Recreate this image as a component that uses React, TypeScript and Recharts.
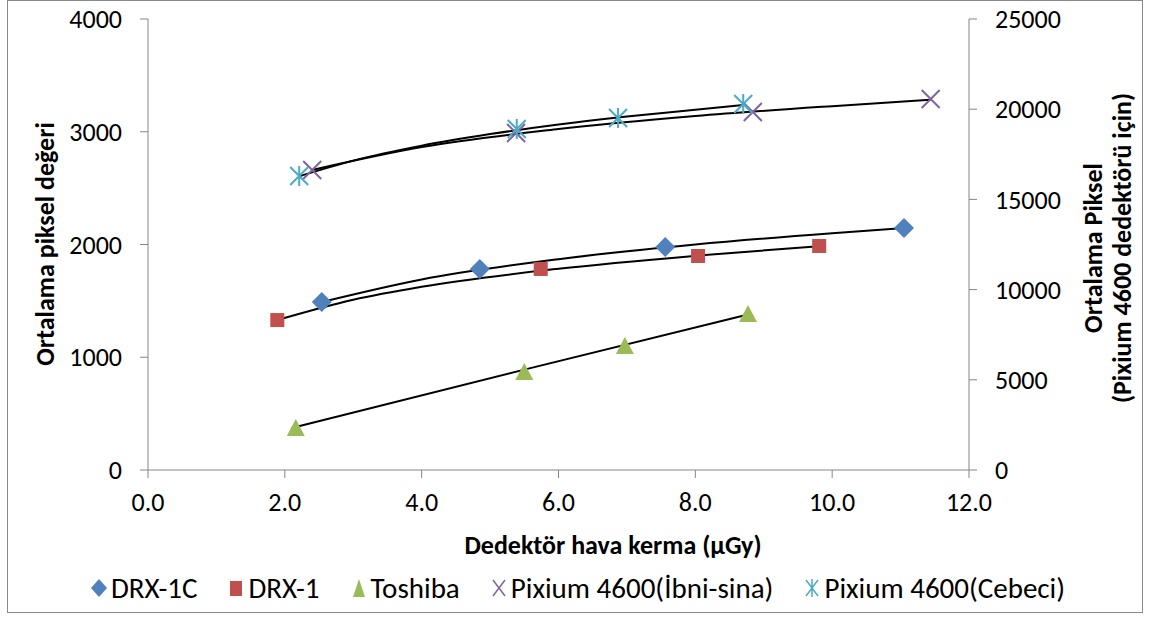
import React from "react";
import { ComposedChart, Scatter, Line, XAxis, YAxis } from "recharts";

// marker values (x = µGy, y = mean pixel)
const drx1cX = [2.54, 4.85, 7.56, 11.05];
const drx1cY = [1490, 1783, 1978, 2146];
const drx1X = [1.89, 5.74, 8.04, 9.81];
const drx1Y = [1330, 1783, 1898, 1987];
const toshibaX = [2.16, 5.5, 6.97, 8.77];
const toshibaY = [372, 869, 1100, 1384];
const ibniX = [2.4, 5.38, 8.84, 11.44];
const ibniY = [16630, 18680, 19845, 20565];
const cebeciX = [2.21, 5.39, 6.87, 8.7];
const cebeciY = [16300, 18900, 19510, 20290];

// trendline samples
const drx1cTrendX = [2.54, 4, 6, 8, 10, 11.05];
const drx1cTrendY = [1490, 1690, 1870, 2000, 2100, 2146];
const drx1TrendX = [1.89, 3, 4, 6, 8, 9.81];
const drx1TrendY = [1330, 1510, 1625, 1785, 1900, 1985];
const toshibaTrendX = [2.1, 5.5, 8.77];
const toshibaTrendY = [372, 890, 1380];
const ibniTrendX = [2.4, 4, 6, 8, 10, 11.44];
const ibniTrendY = [16630, 17900, 18900, 19620, 20170, 20520];
const cebeciTrendX = [2.21, 3, 4, 5, 6, 7, 8, 8.7];
const cebeciTrendY = [16280, 17150, 17980, 18620, 19150, 19590, 19970, 20230];

const xTicks = [0, 2, 4, 6, 8, 10, 12];
const leftTicks = [0, 1000, 2000, 3000, 4000];
const rightTicks = [0, 5000, 10000, 15000, 20000, 25000];

const seriesNames = ["DRX-1C", "DRX-1", "Toshiba", "Pixium 4600(İbni-sina)", "Pixium 4600(Cebeci)"];

const BLUE = "#4F81BD";
const RED = "#C0504D";
const GREEN = "#9BBB59";
const PURPLE = "#8064A2";
const CYAN = "#4BACC6";
const AXIS = "#868686";
const FONT = "Carlito, Calibri, Lato, sans-serif";

const zip = (xs: number[], ys: number[]) => xs.map((x, i) => ({ x, y: ys[i] }));

const Diamond = (p: any) => {
  const { cx, cy } = p;
  const r = 10;
  return <path d={`M${cx},${cy - r}L${cx + r},${cy}L${cx},${cy + r}L${cx - r},${cy}Z`} fill={BLUE} />;
};
const Square = (p: any) => {
  const { cx, cy } = p;
  return <rect x={cx - 7} y={cy - 7} width={14} height={14} fill={RED} />;
};
const Triangle = (p: any) => {
  const { cx, cy } = p;
  return <path d={`M${cx},${cy - 9}L${cx + 9},${cy + 8}L${cx - 9},${cy + 8}Z`} fill={GREEN} />;
};
const Cross = (p: any) => {
  const { cx, cy } = p;
  const r = 9;
  return (
    <path d={`M${cx - r},${cy - r}L${cx + r},${cy + r}M${cx - r},${cy + r}L${cx + r},${cy - r}`} stroke={PURPLE} strokeWidth={2} fill="none" />
  );
};
const Star = (p: any) => {
  const { cx, cy } = p;
  const r = 9;
  return (
    <path
      d={`M${cx - r},${cy - r}L${cx + r},${cy + r}M${cx - r},${cy + r}L${cx + r},${cy - r}M${cx},${cy - r - 1}L${cx},${cy + r + 1}`}
      stroke={CYAN}
      strokeWidth={2}
      fill="none"
    />
  );
};

const legendIcon = (i: number) => {
  const s = 20;
  const c = s / 2;
  if (i === 0) return <path d={`M${c},1L${s - 2},${c}L${c},${s - 1}L2,${c}Z`} fill={BLUE} />;
  if (i === 1) return <rect x={4} y={3} width={12} height={15} fill={RED} />;
  if (i === 2) return <path d={`M${c},1L${s - 4},${s - 1}L4,${s - 1}Z`} fill={GREEN} />;
  if (i === 3) return <path d={`M4,2L16,18M4,18L16,2`} stroke={PURPLE} strokeWidth={1.5} />;
  return <path d={`M4,2L16,18M4,18L16,2M10,1L10,19`} stroke={CYAN} strokeWidth={1.5} />;
};

export default function App() {
  const tickStyle = { fontFamily: FONT, fontSize: 26, fill: "#000" };
  const titleProps = { fontFamily: FONT, fontSize: 26, fontWeight: "bold" as const, textAnchor: "middle" as const, dominantBaseline: "central" as const };
  return (
    <div style={{ position: "absolute", left: 0, top: 0, width: 1150, height: 617, background: "#fff", fontFamily: FONT }}>
      <div style={{ position: "absolute", left: 7, top: 0, width: 1134, height: 611, border: "1.5px solid #8a8a8a" }} />
      <div style={{ position: "absolute", left: 0, top: 0 }}>
        <ComposedChart width={1150} height={617} margin={{ top: 19, right: 0, left: 0, bottom: 107 }}>
          <XAxis
            dataKey="x"
            type="number"
            domain={[0, 12]}
            ticks={xTicks}
            tickFormatter={(v: number) => v.toFixed(1)}
            stroke={AXIS}
            tickSize={8}
            tickMargin={15}
            tick={tickStyle}
            height={40}
            allowDataOverflow
          />
          <YAxis
            yAxisId="left"
            domain={[0, 4000]}
            ticks={leftTicks}
            stroke={AXIS}
            tickSize={8}
            tickMargin={18}
            tick={tickStyle}
            width={148}
          />
          <YAxis
            yAxisId="right"
            orientation="right"
            domain={[0, 25000]}
            ticks={rightTicks}
            stroke={AXIS}
            tickSize={8}
            tickMargin={18}
            tick={{ ...tickStyle, textAnchor: "start" }}
            width={181}
          />
          <Line data={zip(drx1cTrendX, drx1cTrendY)} dataKey="y" yAxisId="left" type="monotone" stroke="#000" strokeWidth={2} dot={false} isAnimationActive={false} />
          <Line data={zip(drx1TrendX, drx1TrendY)} dataKey="y" yAxisId="left" type="monotone" stroke="#000" strokeWidth={2} dot={false} isAnimationActive={false} />
          <Line data={zip(toshibaTrendX, toshibaTrendY)} dataKey="y" yAxisId="left" type="monotone" stroke="#000" strokeWidth={2} dot={false} isAnimationActive={false} />
          <Line data={zip(ibniTrendX, ibniTrendY)} dataKey="y" yAxisId="right" type="monotone" stroke="#000" strokeWidth={2} dot={false} isAnimationActive={false} />
          <Line data={zip(cebeciTrendX, cebeciTrendY)} dataKey="y" yAxisId="right" type="monotone" stroke="#000" strokeWidth={2} dot={false} isAnimationActive={false} />
          <Scatter name={seriesNames[0]} data={zip(drx1cX, drx1cY)} dataKey="y" yAxisId="left" shape={Diamond} isAnimationActive={false} />
          <Scatter name={seriesNames[1]} data={zip(drx1X, drx1Y)} dataKey="y" yAxisId="left" shape={Square} isAnimationActive={false} />
          <Scatter name={seriesNames[2]} data={zip(toshibaX, toshibaY)} dataKey="y" yAxisId="left" shape={Triangle} isAnimationActive={false} />
          <Scatter name={seriesNames[3]} data={zip(ibniX, ibniY)} dataKey="y" yAxisId="right" shape={Cross} isAnimationActive={false} />
          <Scatter name={seriesNames[4]} data={zip(cebeciX, cebeciY)} dataKey="y" yAxisId="right" shape={Star} isAnimationActive={false} />
          <text x={45} y={244} transform="rotate(-90 45 244)" {...titleProps}>
            Ortalama piksel değeri
          </text>
          <text x={1093} y={248} transform="rotate(-90 1093 248)" {...titleProps}>
            Ortalama Piksel
          </text>
          <text x={1122} y={248} transform="rotate(-90 1122 248)" {...titleProps}>
            (Pixium 4600 dedektörü için)
          </text>
          <text x={613} y={545} {...titleProps}>
            Dedektör hava kerma (µGy)
          </text>
        </ComposedChart>
      </div>
      <div
        style={{
          position: "absolute",
          left: 0,
          width: 1150,
          top: 570,
          display: "flex",
          justifyContent: "center",
          alignItems: "center",
          gap: 29,
          fontSize: 29,
          color: "#000",
          transform: "translateX(2px)",
        }}
      >
        {seriesNames.map((n, i) => (
          <div key={n} style={{ display: "flex", alignItems: "center", gap: 2 }}>
            <svg width={20} height={20}>{legendIcon(i)}</svg>
            <span>{n}</span>
          </div>
        ))}
      </div>
    </div>
  );
}
